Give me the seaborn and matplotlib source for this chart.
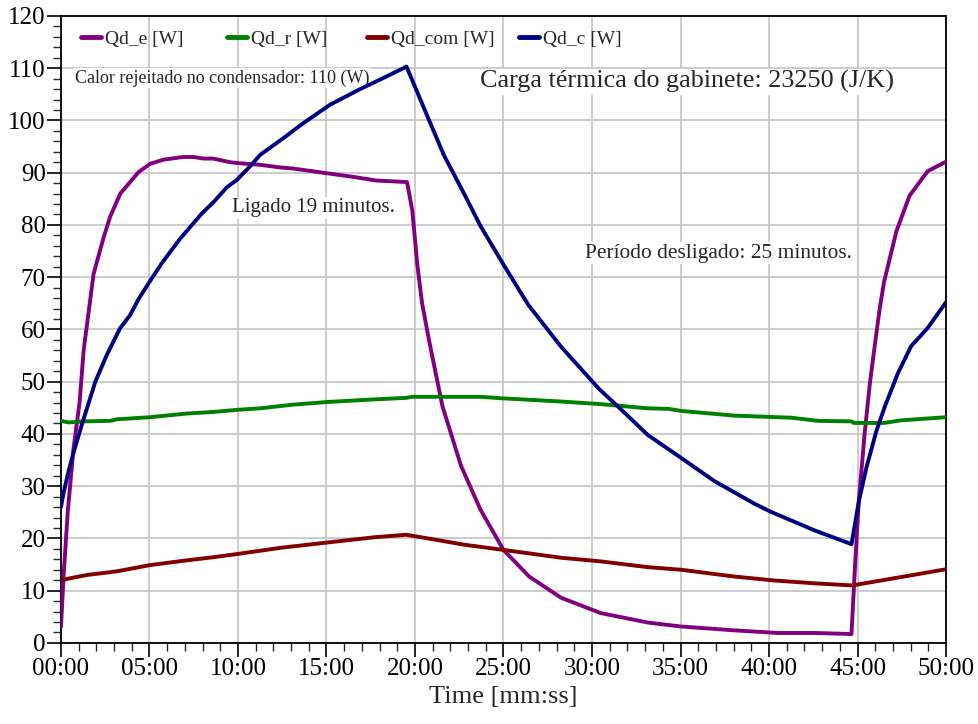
import matplotlib
matplotlib.use("Agg")
import matplotlib.pyplot as plt
from matplotlib.lines import Line2D
from matplotlib.legend import Legend
from matplotlib.ticker import MultipleLocator
import seaborn as sns
import pandas as pd

# ---- data (time in minutes) ----
t_e = [0, 0.15, 0.38, 0.7, 1.05, 1.28, 1.84, 2.4, 2.78, 3.35, 4.38, 5.04, 5.8, 6.9, 7.5, 8.05, 8.6,
       9.56, 10.1, 11.25, 12.4, 13.1, 15.0, 16.5, 17.8, 19.55, 19.85, 20.13, 20.4, 20.8, 21.55, 22.6,
       23.7, 25.0, 26.45, 28.25, 30.5, 33.15, 35.0, 38.05, 40.5, 42.6, 44.66, 44.85, 45.07, 45.4,
       45.7, 45.97, 46.25, 46.5, 47.2, 47.94, 48.97, 50.0]
qd_e = [3.1, 13, 25, 37, 46, 56, 70.6, 77.5, 81.6, 86, 90.1, 91.7, 92.5, 93, 93, 92.7, 92.7,
        92, 91.8, 91.5, 91, 90.8, 89.9, 89.2, 88.5, 88.2, 82.7, 72.4, 65, 57.8, 45.3, 33.9,
        25.5, 17.8, 12.7, 8.65, 5.7, 3.9, 3.15, 2.4, 1.9, 1.9, 1.7, 14.1, 27, 40,
        49.7, 56.8, 63.9, 69.1, 78.8, 85.6, 90.3, 92.1]

t_c = [0, 0.15, 0.43, 0.7, 1.18, 1.94, 2.6, 3.35, 3.9, 4.38, 5.04, 5.7, 6.74, 7.96, 8.6, 9.37,
       9.93, 10.68, 11.25, 12.56, 13.7, 15.2, 16.9, 18.2, 19.52, 20.13, 20.9, 21.64, 22.77, 23.7,
       25.0, 26.4, 28.25, 30.4, 31.45, 33.15, 35.04, 36.9, 39.2, 40.1, 42.6, 44.66, 45.07, 45.5,
       46.07, 46.54, 47.28, 48.03, 48.97, 50.0]
qd_c = [26, 28.8, 32.9, 36.3, 41.8, 50, 55.2, 60.3, 62.7, 65.8, 69.3, 72.7, 77.4, 82.2, 84.3, 87.2,
        88.6, 91.2, 93.4, 96.6, 99.5, 103.0, 106.0, 108.1, 110.3, 105.4, 99.2, 93.3, 86, 79.8,
        72.4, 64.7, 56.7, 48.6, 45.3, 39.8, 35.4, 31, 26.6, 25.1, 21.5, 18.9, 27, 33.5,
        40.6, 45.2, 51.6, 56.8, 60.3, 65.2]

t_r = [0, 0.43, 1.28, 2.78, 3.16, 5.04, 7.1, 8.6, 9.93, 11.25, 13.1, 15.0, 17.65, 19.5, 19.85,
       23.7, 25.0, 28.25, 30.5, 33.15, 34.3, 35.04, 38.05, 41.26, 42.77, 44.66, 44.8, 46.5, 47.47, 50.0]
qd_r = [42.5, 42.2, 42.4, 42.5, 42.8, 43.2, 43.9, 44.2, 44.6, 44.9, 45.6, 46.1, 46.6, 46.9, 47.1,
        47.1, 46.8, 46.2, 45.7, 44.9, 44.8, 44.4, 43.5, 43.1, 42.5, 42.4, 42.1, 42.1, 42.6, 43.2]

t_com = [0, 0.7, 1.47, 3.16, 5.04, 7.1, 8.6, 9.93, 12.4, 15.0, 17.65, 19.5, 20.9, 22.77, 25.0,
         28.25, 30.5, 33.15, 35.04, 38.05, 40.3, 42.6, 44.7, 47.28, 50.0]
qd_com = [12, 12.5, 13, 13.7, 14.9, 15.8, 16.4, 17, 18.2, 19.2, 20.2, 20.7, 19.9, 18.8, 17.8,
          16.3, 15.6, 14.5, 14, 12.7, 11.95, 11.4, 11.0, 12.5, 14.1]

series_names = ["Qd_e [W]", "Qd_r [W]", "Qd_com [W]", "Qd_c [W]"]
series_colors = ["#800080", "#008000", "#800000", "#000080"]
x_ticks = [0, 5, 10, 15, 20, 25, 30, 35, 40, 45, 50]
x_ticklabels = ["00:00", "05:00", "10:00", "15:00", "20:00", "25:00",
                "30:00", "35:00", "40:00", "45:00", "50:00"]
y_ticks = list(range(0, 121, 10))

frames = []
for name, t, v in [(series_names[0], t_e, qd_e), (series_names[1], t_r, qd_r),
                   (series_names[2], t_com, qd_com), (series_names[3], t_c, qd_c)]:
    frames.append(pd.DataFrame({"t": t, "v": v, "series": name}))
df = pd.concat(frames, ignore_index=True)

sns.set_style("white")
plt.rcParams["font.family"] = ["Liberation Serif", "DejaVu Serif"]

fig = plt.figure(figsize=(9.79, 7.24), dpi=100)
ax = fig.add_axes([0.0623, 0.112, 0.904, 0.866])

sns.lineplot(data=df, x="t", y="v", hue="series", hue_order=series_names,
             palette=dict(zip(series_names, series_colors)), estimator=None,
             sort=True, linewidth=2.8, legend=False, ax=ax, zorder=3)

ax.set_xlim(0, 50)
ax.set_ylim(0, 120)
ax.set_xticks(x_ticks)
ax.set_xticklabels(x_ticklabels)
ax.set_yticks(y_ticks)
ax.xaxis.set_minor_locator(MultipleLocator(1))
ax.yaxis.set_minor_locator(MultipleLocator(2))
ax.grid(True, which="major", color="#c8c8c8", linewidth=1.3, zorder=0)
ax.set_axisbelow(True)
ax.tick_params(axis="both", which="major", direction="out", length=10, width=1.2,
               labelsize=18, colors="black", pad=1)
ax.tick_params(axis="both", which="minor", direction="out", length=6, width=1.0)
ax.tick_params(left=True, bottom=True, which="both")
for s in ax.spines.values():
    s.set_color("black")
    s.set_linewidth(1.3)

ax.set_xlabel("Time [mm:ss]", fontsize=19, labelpad=4)
ax.set_ylabel("")

# legend entries placed individually
leg_x = [0.023, 0.188, 0.346, 0.518]
for name, col, xf in zip(series_names, series_colors, leg_x):
    lg = Legend(ax, [Line2D([0], [0], color=col, lw=3.5)], [name],
                loc="center left", bbox_to_anchor=(xf, 0.963), frameon=False,
                fontsize=14, handlelength=1.0, handletextpad=0.2,
                borderpad=0, borderaxespad=0)
    ax.add_artist(lg)

bbox = dict(facecolor="white", edgecolor="none", pad=1.0)
ax.text(0.8, 108.1, "Calor rejeitado no condensador: 110 (W)", fontsize=13,
        va="center", ha="left", bbox=bbox, zorder=2)
ax.text(23.7, 107.4, "Carga térmica do gabinete: 23250 (J/K)", fontsize=18.8,
        va="center", ha="left", bbox=bbox, zorder=2)
ax.text(9.66, 83.3, "Ligado 19 minutos.", fontsize=15,
        va="center", ha="left", bbox=bbox, zorder=2)
ax.text(29.6, 74.6, "Período desligado: 25 minutos.", fontsize=15.4,
        va="center", ha="left", bbox=bbox, zorder=2)

fig.savefig("out.png", dpi=100)
